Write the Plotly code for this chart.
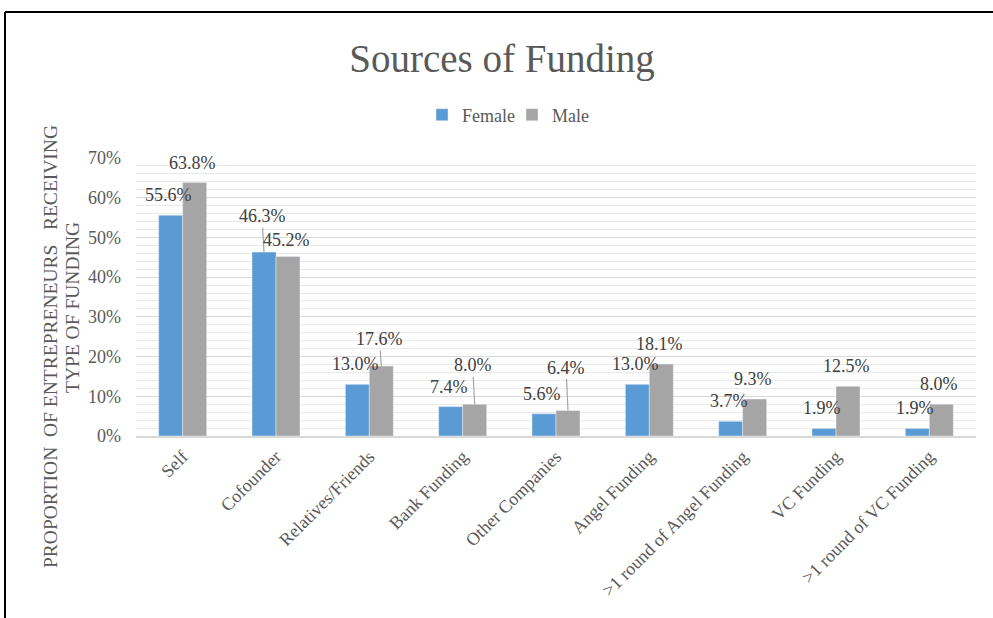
import plotly.graph_objects as go

# Funding sources and share of entrepreneurs (%) receiving each type
categories = [
    "Self", "Cofounder", "Relatives/Friends", "Bank Funding", "Other Companies",
    "Angel Funding", ">1 round of Angel Funding", "VC Funding", ">1 round of VC Funding",
]
female = [55.6, 46.3, 13.0, 7.4, 5.6, 13.0, 3.7, 1.9, 1.9]
male = [63.8, 45.2, 17.6, 8.0, 6.4, 18.1, 9.3, 12.5, 8.0]
y_ticks = [0, 10, 20, 30, 40, 50, 60, 70]
y_tick_text = [f"{t}%" for t in y_ticks]

FONT = "Liberation Serif"
BLUE = "#5B9BD5"
GREY = "#A5A5A5"

W, H = 993, 618
ML, MR, MT, MB = 136, 17, 158, 182
PW, PH = W - ML - MR, H - MT - MB


def px_x(p):
    return (p - ML) / PW


def px_y(p):
    return (H - MB - p) / PH


fig = go.Figure()
fig.add_trace(go.Bar(name="Female", x=categories, y=female, marker_color=BLUE))
fig.add_trace(go.Bar(name="Male", x=categories, y=male, marker_color=GREY))

# Value labels: lifted above each bar; a few use a leader line down to the bar
label_lift = {("Male", 1): 16}
leader = {("Female", 1): 36, ("Male", 2): 27, ("Male", 3): 39, ("Male", 4): 43}
annotations = []
for name, vals, shift in (("Female", female, -12), ("Male", male, 12)):
    for i, v in enumerate(vals):
        key = (name, i)
        txt = f"{v:.1f}%"
        common = dict(x=i, y=v, xref="x", yref="y", text=txt,
                      font=dict(family=FONT, size=18, color="#404040"))
        if key in leader:
            annotations.append(dict(**common, xshift=shift, showarrow=True,
                                    ax=-2, ay=-leader[key], arrowhead=0,
                                    arrowwidth=1.2, arrowcolor="#A6A6A6",
                                    standoff=0, startstandoff=0))
        else:
            annotations.append(dict(**common, xshift=shift - 2,
                                    yshift=label_lift.get(key, 20),
                                    showarrow=False, xanchor="center", yanchor="middle"))

# Two-line rotated axis caption
for text, cx, cy in (("PROPORTION&nbsp; OF ENTREPRENEURS&nbsp;&nbsp; RECEIVING", 50, 347),
                     ("TYPE OF FUNDING", 72, 308)):
    annotations.append(dict(text=text, x=px_x(cx), y=px_y(cy),
                            xref="paper", yref="paper",
                            xanchor="center", yanchor="middle",
                            textangle=-90, showarrow=False,
                            font=dict(family=FONT, size=19.5, color="#595959")))

# Outer frame lines (left and top)
shapes = [
    dict(type="line", xref="paper", yref="paper", x0=px_x(5), x1=px_x(5),
         y0=px_y(12), y1=px_y(H + 5), line=dict(color="black", width=2)),
    dict(type="line", xref="paper", yref="paper", x0=px_x(5), x1=px_x(W + 5),
         y0=px_y(12), y1=px_y(12), line=dict(color="black", width=2)),
]

fig.update_layout(
    width=W, height=H,
    margin=dict(l=ML, r=MR, t=MT, b=MB, pad=0),
    paper_bgcolor="white", plot_bgcolor="white",
    barmode="group", bargap=0.486, bargroupgap=0,
    font=dict(family=FONT, color="#595959"),
    title=dict(text="Sources of Funding", x=px_x(502), xref="paper", xanchor="center",
               y=1 - 58 / H, yref="container", yanchor="middle",
               font=dict(family=FONT, size=39, color="#595959")),
    legend=dict(orientation="h", x=px_x(512), xanchor="center",
                y=px_y(115), yanchor="middle",
                font=dict(family=FONT, size=18, color="#595959"),
                itemwidth=30, entrywidth=45, tracegroupgap=0, bgcolor="rgba(0,0,0,0)"),
    annotations=annotations,
    shapes=shapes,
    showlegend=True,
)
fig.update_yaxes(range=[0, 70], tickvals=y_ticks, ticktext=y_tick_text,
                 tickfont=dict(family=FONT, size=18, color="#595959"),
                 showgrid=True, gridcolor="#D9D9D9", gridwidth=1,
                 minor=dict(dtick=2, showgrid=True, gridcolor="#EAEAEA", gridwidth=1),
                 zeroline=False, showline=False, ticks="", ticklabelstandoff=14)
fig.update_xaxes(tickangle=-45, tickfont=dict(family=FONT, size=18, color="#595959"),
                 showline=True, linecolor="#D9D9D9", linewidth=2, ticks="",
                 ticklabelstandoff=1)

fig.write_html("out.html")
